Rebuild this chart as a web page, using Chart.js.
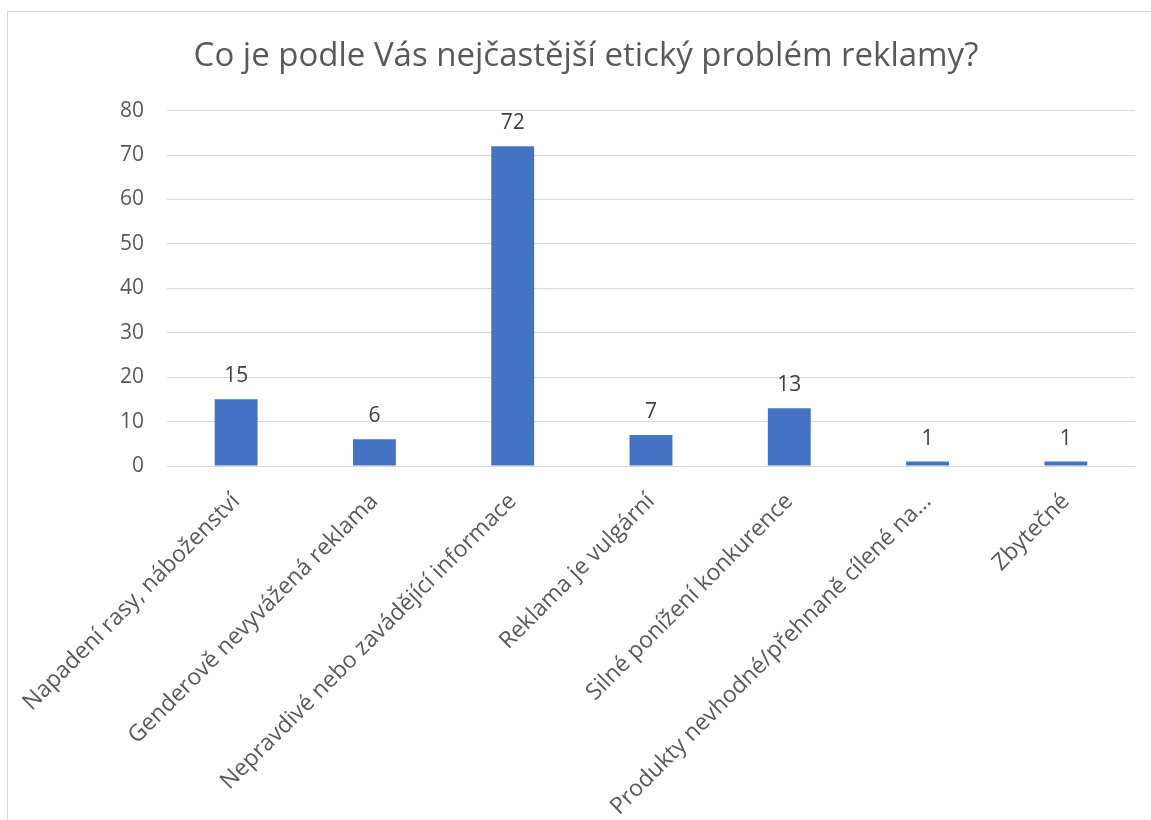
<!DOCTYPE html>
<html>
<head>
<meta charset="utf-8">
<script src="https://cdn.jsdelivr.net/npm/chart.js@4/dist/chart.umd.min.js"></script>
<style>
  html, body { margin: 0; padding: 0; background: #fff; overflow: hidden; }
  #frame { position: absolute; left: 7px; top: 11px; width: 1200px; height: 900px; border: 1px solid #d9d9d9; }
  #problemChart { position: absolute; left: 0; top: 0; }
</style>
</head>
<body>
<div id="frame"></div>
<canvas id="problemChart" width="1151" height="820"></canvas>
<script>
var categories = [
  'Napadení rasy, náboženství',
  'Genderově nevyvážená reklama',
  'Nepravdivé nebo zavádějící informace',
  'Reklama je vulgární',
  'Silné ponížení konkurence',
  'Produkty nevhodné/přehnaně cílené na…',
  'Zbytečné'
];
var answers = [15, 6, 72, 7, 13, 1, 1];
var yTicks = [0, 10, 20, 30, 40, 50, 60, 70, 80];

var fontFamily = '"Open Sans", "Noto Sans", sans-serif';

// values above the bars (no datalabels plugin offline)
var valueLabels = {
  id: 'valueLabels',
  afterDatasetsDraw: function (chart) {
    var ctx = chart.ctx;
    var meta = chart.getDatasetMeta(0);
    ctx.save();
    ctx.font = '21px ' + fontFamily;
    ctx.fillStyle = '#404040';
    ctx.textAlign = 'center';
    ctx.textBaseline = 'alphabetic';
    meta.data.forEach(function (bar, i) {
      ctx.fillText(answers[i], bar.x, bar.y - 17);
    });
    ctx.restore();
  }
};

var problemChart = new Chart(document.getElementById('problemChart'), {
  type: 'bar',
  data: {
    labels: categories,
    datasets: [{
      label: 'Počet',
      data: answers,
      backgroundColor: '#4472c4',
      borderWidth: 0,
      barPercentage: 0.31,
      categoryPercentage: 1
    }]
  },
  options: {
    responsive: false,
    animation: false,
    layout: {
      padding: { left: 37, right: 16, top: 0, bottom: 0 }
    },
    plugins: {
      legend: { display: false },
      tooltip: { enabled: false },
      title: {
        display: true,
        text: 'Co je podle Vás nejčastější etický problém reklamy?',
        color: '#595959',
        font: { family: fontFamily, size: 33, weight: 'normal', lineHeight: 1.2 },
        padding: { top: 37, bottom: 34 }
      }
    },
    scales: {
      x: {
        grid: { display: false },
        border: { display: false },
        ticks: {
          color: '#595959',
          font: { family: fontFamily, size: 23 },
          maxRotation: 45,
          minRotation: 45,
          autoSkip: false,
          padding: 14
        },
        afterFit: function (scale) { scale.height = 354; }
      },
      y: {
        min: 0,
        max: 80,
        afterBuildTicks: function (scale) {
          scale.ticks = yTicks.map(function (v) { return { value: v }; });
        },
        grid: { color: '#d9d9d9', lineWidth: 1, drawTicks: false },
        border: { display: false },
        ticks: {
          color: '#595959',
          font: { family: fontFamily, size: 21 },
          padding: 23
        },
        afterFit: function (scale) { scale.width = 130; }
      }
    }
  },
  plugins: [valueLabels]
});
</script>
</body>
</html>
